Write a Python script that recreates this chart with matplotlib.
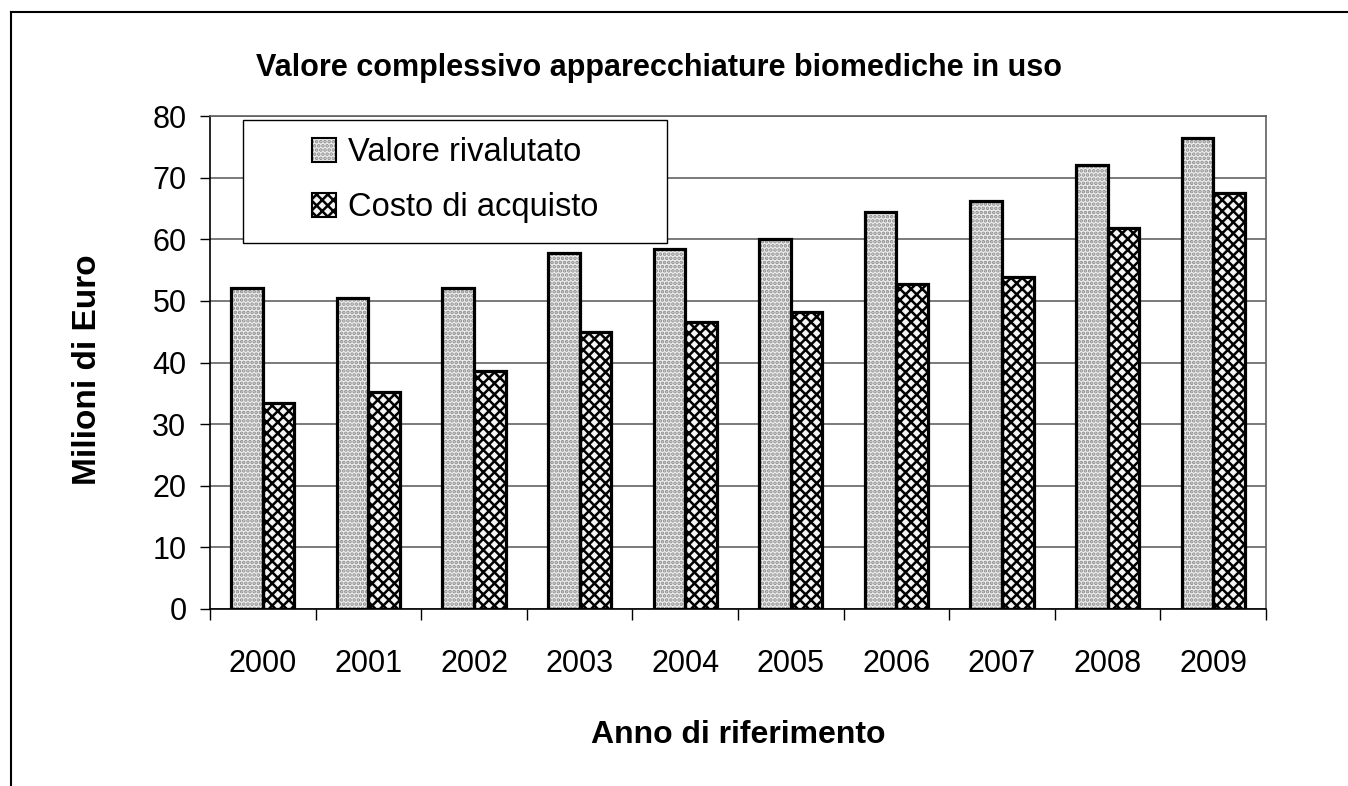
import numpy as np
import matplotlib
matplotlib.use("Agg")
import matplotlib.pyplot as plt
from matplotlib.lines import Line2D
from matplotlib.patches import Patch, Rectangle
from matplotlib.legend_handler import HandlerTuple

anni = ['2000', '2001', '2002', '2003', '2004', '2005', '2006', '2007', '2008', '2009']
valore_rivalutato = [52.1, 50.5, 52.1, 57.8, 58.4, 60.0, 64.4, 66.2, 72.0, 76.5]
costo_acquisto = [33.4, 35.2, 38.6, 45.0, 46.6, 48.2, 52.7, 53.9, 61.8, 67.5]

plt.rcParams['font.family'] = ['Liberation Sans', 'DejaVu Sans']
plt.rcParams['hatch.linewidth'] = 1.8

fig = plt.figure(figsize=(13.48, 7.86), dpi=100)
ax = fig.add_axes([210 / 1348, 1 - 609 / 786, 1056 / 1348, 493 / 786])

x = np.arange(len(anni))
w = 0.3

stile_val = dict(facecolor='#eeeeee', edgecolor='#8c8c8c', hatch='....')
stile_costo = dict(facecolor='#f4f4f4', edgecolor='#000000', hatch='xxx')

# riempimento con trama, poi contorno nero
ax.bar(x - w / 2, valore_rivalutato, w, linewidth=0, zorder=2, **stile_val)
ax.bar(x + w / 2, costo_acquisto, w, linewidth=0, zorder=2, **stile_costo)
ax.bar(x - w / 2, valore_rivalutato, w, fill=False, edgecolor='black', linewidth=2.3, zorder=3)
ax.bar(x + w / 2, costo_acquisto, w, fill=False, edgecolor='black', linewidth=2.3, zorder=3)

ax.set_xlim(-0.5, len(anni) - 0.5)
ax.set_ylim(0, 80)
ax.set_yticks(range(0, 81, 10))
ax.yaxis.grid(True, color='#707070', linewidth=1.3, zorder=0)
ax.set_axisbelow(True)

ax.set_xticks(x)
ax.set_xticklabels(anni)
ax.set_xticks(np.arange(-0.5, len(anni)), minor=True)
ax.tick_params(axis='x', which='major', length=0, pad=29, labelsize=22)
ax.tick_params(axis='x', which='minor', length=8, width=1, direction='out')
ax.tick_params(axis='y', length=7, width=1, direction='out', pad=10, labelsize=22)

for s in ['top', 'right']:
    ax.spines[s].set_color('#606060')
    ax.spines[s].set_linewidth(1.2)
for s in ['left', 'bottom']:
    ax.spines[s].set_color('black')
    ax.spines[s].set_linewidth(1.2)

fig.text(659 / 1348, 1 - 68 / 786, 'Valore complessivo apparecchiature biomediche in uso',
         ha='center', va='center', fontsize=22, fontweight='bold')
fig.text(88 / 1348, 1 - 370 / 786, 'Milioni di Euro', rotation=90, ha='center', va='center',
         fontsize=24, fontweight='bold')
fig.text(738 / 1348, 1 - 735 / 786, 'Anno di riferimento', ha='center', va='center',
         fontsize=23, fontweight='bold')

# riquadro della legenda
fig.add_artist(Rectangle((243 / 1348, 1 - 243 / 786), 424 / 1348, 123 / 786,
                         transform=fig.transFigure, facecolor='white',
                         edgecolor='black', linewidth=1.0, zorder=4))
bordo = dict(fill=False, edgecolor='black', linewidth=1.5)
handles = [(Patch(linewidth=0, **stile_val), Patch(**bordo)),
           (Patch(linewidth=0, **stile_costo), Patch(**bordo))]
leg = fig.legend(handles, ['Valore rivalutato', 'Costo di acquisto'],
                 loc='upper left', bbox_to_anchor=(312 / 1348, 1 - 137 / 786),
                 fontsize=23.5, frameon=False, handlelength=0.75,
                 handleheight=0.75, handletextpad=0.35, borderpad=0,
                 labelspacing=0.75, borderaxespad=0,
                 handler_map={tuple: HandlerTuple(ndivide=1, pad=0)})
leg.set_zorder(5)

# cornice esterna
fig.add_artist(Line2D([11 / 1348, 11 / 1348], [0, 1 - 12 / 786], color='black', linewidth=1.5))
fig.add_artist(Line2D([11 / 1348, 1], [1 - 12 / 786, 1 - 12 / 786], color='black', linewidth=1.5))

fig.savefig('out.png', dpi=100)
